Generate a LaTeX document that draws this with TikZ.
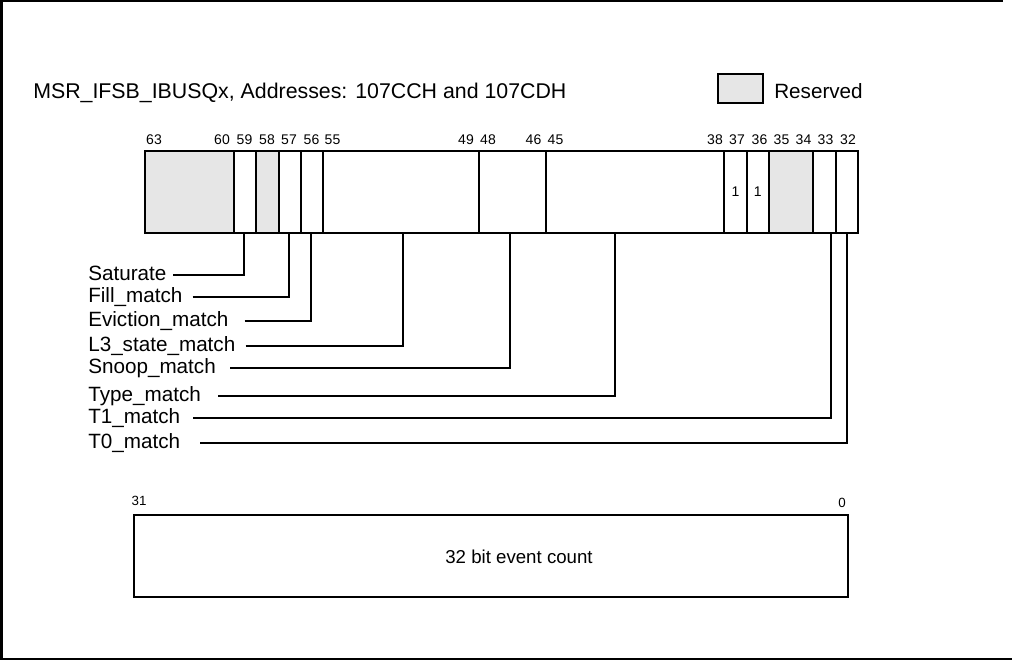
\documentclass[tikz,border=0pt]{standalone}
\usepackage{fontspec}
\setmainfont{Liberation Sans}
\usetikzlibrary{positioning}
\definecolor{ink}{HTML}{000000}
\definecolor{resvgray}{HTML}{E6E6E6}
\newcommand{\bitw}{16.71pt}
\tikzset{
  field/.style={rectangle, draw=ink, line width=1.5pt, minimum width=\bitw, minimum height=61.5pt,
                inner sep=0pt, outer sep=0pt, font=\fontsize{10.5}{12}\selectfont},
  resv/.style={fill=resvgray},
  bitnum/.style={inner sep=0pt, anchor=base, font=\fontsize{10.5}{12}\selectfont},
  fieldlbl/.style={inner sep=0pt, anchor=west, text height=11pt, text depth=3.5pt,
                   font=\fontsize{15.5}{18}\selectfont},
  heading/.style={inner sep=0pt, anchor=base west, font=\fontsize{15.5}{18}\selectfont},
  lead/.style={line width=1.5pt, color=ink},
  frame/.style={line width=1.5pt, color=ink}
}

\begin{document}
\begin{tikzpicture}[x=0.75pt, y=-0.75pt, node distance=0pt]
  \useasboundingbox (0,0) rectangle (1012,660);
  \draw [frame] (1012,659) -- (1.5,659) -- (1.5,1.5) -- (1003,1.5);

  % title and legend
  \node (title) [heading, font=\fontsize{16}{18}\selectfont] at (33,98) {MSR\_IFSB\_IBUSQx, Addresses: 107CCH and 107CDH};
  \node (key) [field, resv, line width=1.3pt, minimum width=33.75pt, minimum height=21.75pt,
               anchor=north west] at (718,74) {};
  \node (keytxt) [heading] at (774,98) {Reserved};

  % upper half, bits 63..32
  \node (f63) [field, resv, minimum width=4*\bitw, anchor=north west] at (145,150.5) {};
  \node (f59) [field, right=of f63] {};
  \node (f58) [field, resv, right=of f59] {};
  \node (f57) [field, right=of f58] {};
  \node (f56) [field, right=of f57] {};
  \node (f55) [field, minimum width=7*\bitw, right=of f56] {};
  \node (f48) [field, minimum width=3*\bitw, right=of f55] {};
  \node (f45) [field, minimum width=8*\bitw, right=of f48] {};
  \node (f37) [field, right=of f45] {1};
  \node (f36) [field, right=of f37] {1};
  \node (f35) [field, resv, minimum width=2*\bitw, right=of f36] {};
  \node (f33) [field, right=of f35] {};
  \node (f32) [field, right=of f33] {};

  \node (n63) [bitnum] at (154,144) {63};
  \node (n60) [bitnum] at (222,144) {60};  \node (n59) [bitnum] at (244.5,144) {59};
  \node (n58) [bitnum] at (267,144) {58};  \node (n57) [bitnum] at (289,144) {57};
  \node (n56) [bitnum] at (311.5,144) {56}; \node (n55) [bitnum] at (332.5,144) {55};
  \node (n49) [bitnum] at (466,144) {49};  \node (n48) [bitnum] at (488,144) {48};
  \node (n46) [bitnum] at (533.5,144) {46}; \node (n45) [bitnum] at (555.5,144) {45};
  \node (n38) [bitnum] at (715,144) {38};  \node (n37) [bitnum] at (737,144) {37};
  \node (n36) [bitnum] at (759.5,144) {36}; \node (n35) [bitnum] at (781.5,144) {35};
  \node (n34) [bitnum] at (803.5,144) {34}; \node (n33) [bitnum] at (825.5,144) {33};
  \node (n32) [bitnum] at (848,144) {32};

  % field names
  \node (lsat) [fieldlbl] at (88,275) {Saturate};
  \node (lfill) [fieldlbl] at (88,297) {Fill\_match};
  \node (levict) [fieldlbl] at (88,321) {Eviction\_match};
  \node (ll3) [fieldlbl] at (88,346) {L3\_state\_match};
  \node (lsnoop) [fieldlbl] at (88,368) {Snoop\_match};
  \node (ltype) [fieldlbl] at (88,396) {Type\_match};
  \node (lt1) [fieldlbl] at (88,418) {T1\_match};
  \node (lt0) [fieldlbl] at (88,443) {T0\_match};

  \draw [lead] ([xshift=5pt]lsat.east) -| ([xshift=-1pt]f59.south);
  \draw [lead] ([xshift=7.5pt]lfill.east) -| ([xshift=-0.75pt]f57.south);
  \draw [lead] ([xshift=12pt]levict.east) -| ([xshift=-0.75pt]f56.south);
  \draw [lead] ([xshift=7.5pt]ll3.east) -| ([xshift=1.5pt]f55.south);
  \draw [lead] ([xshift=10.5pt]lsnoop.east) -| ([xshift=-2.25pt]f48.south);
  \draw [lead] ([xshift=12.75pt]ltype.east) -| ([xshift=-15pt]f45.south);
  \draw [lead] ([xshift=9.75pt]lt1.east) -| ([xshift=4.5pt]f33.south);
  \draw [lead] ([xshift=15pt]lt0.east) -| (f32.south);

  % lower half, bits 31..0
  \node (cnt) [field, minimum width=535.5pt, anchor=north west] at (134,515) {};
  \node (cnttxt) [inner sep=0pt, font=\fontsize{14}{16}\selectfont] at (519,557) {32 bit event count};
  \node (n31) [bitnum, anchor=center, font=\fontsize{10}{12}\selectfont] at (139,501) {31};
  \node (n0) [bitnum, anchor=center, font=\fontsize{10}{12}\selectfont] at (842,503) {0};
\end{tikzpicture}
\end{document}
